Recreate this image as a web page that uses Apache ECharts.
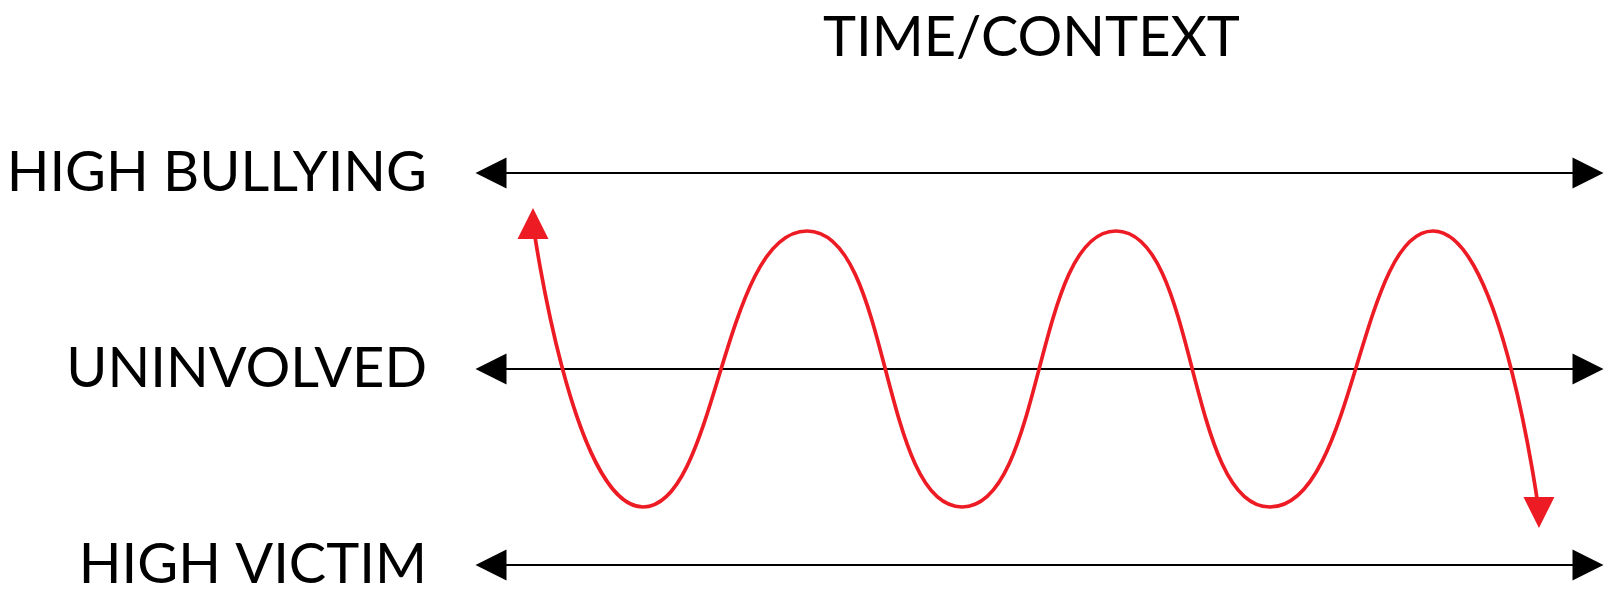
<!DOCTYPE html>
<html>
<head>
<meta charset="utf-8">
<script src="https://cdn.jsdelivr.net/npm/echarts@6/dist/echarts.min.js"></script>
<style>
  html, body { margin: 0; padding: 0; background: #fff; }
  #chart { width: 1608px; height: 592px; }
</style>
</head>
<body>
<div id="chart"></div>
<script>
// ---- data ----
const titleText = 'TIME/CONTEXT';
const levelValues = [1, 0, -1];
const levelLabels = ['HIGH BULLYING', 'UNINVOLVED', 'HIGH VICTIM'];
const timeStart = 0;
const timeEnd = 100;
// red path: start arrow, troughs/peaks, end arrow (time position, level)
const waveX = [3.83, 13.86, 28.81, 42.94, 56.97, 71.01, 85.87, 95.53];
const waveY = [0.742, -0.704, 0.704, -0.704, 0.704, -0.704, 0.704, -0.732];

// ---- build ----
const FONT = 'Lato';
const FONT_SIZE = 56;
const FONT_WEIGHT = 400;
const levelSeries = levelValues.map(function (v) {
  return {
    type: 'line',
    silent: true,
    data: [
      { value: [timeStart, v], symbol: 'triangle', symbolRotate: 90 },
      { value: [timeEnd, v], symbol: 'triangle', symbolRotate: -90 }
    ],
    symbolSize: [31, 31],
    itemStyle: { color: '#000' },
    lineStyle: { color: '#000', width: 2 },
    z: 2
  };
});

const last = waveX.length - 1;
const waveData = waveX.map(function (x, i) {
  const item = { value: [x, waveY[i]] };
  if (i === 0) { item.symbol = 'triangle'; item.symbolRotate = 0; }
  else if (i === last) { item.symbol = 'triangle'; item.symbolRotate = 180; }
  else { item.symbol = 'none'; }
  return item;
});

const option = {
  backgroundColor: '#fff',
  animation: false,
  title: {
    text: titleText,
    left: 823,
    top: 10,
    padding: 0,
    textStyle: { fontFamily: FONT, fontWeight: FONT_WEIGHT, fontSize: FONT_SIZE, color: '#000' }
  },
  grid: { left: 491, right: 20, top: 173, bottom: 27, containLabel: false, outerBoundsMode: 'none' },
  xAxis: {
    type: 'value', min: timeStart, max: timeEnd, show: false
  },
  yAxis: {
    type: 'value', min: -1, max: 1, interval: 1,
    axisLine: { show: false }, axisTick: { show: false }, splitLine: { show: false },
    axisLabel: {
      margin: 64,
      fontFamily: FONT, fontWeight: FONT_WEIGHT, fontSize: FONT_SIZE, color: '#000',
      formatter: function (v) {
        const idx = levelValues.indexOf(v);
        return idx >= 0 ? levelLabels[idx] : '';
      }
    }
  },
  series: levelSeries.concat([{
    type: 'line',
    silent: true,
    smooth: 0.53,
    data: waveData,
    symbolSize: [31, 31],
    itemStyle: { color: '#ED1C24' },
    lineStyle: { color: '#ED1C24', width: 3.7 },
    z: 3
  }])
};

const chart = echarts.init(document.getElementById('chart'), null, { renderer: 'canvas' });
chart.setOption(option);
</script>
</body>
</html>
